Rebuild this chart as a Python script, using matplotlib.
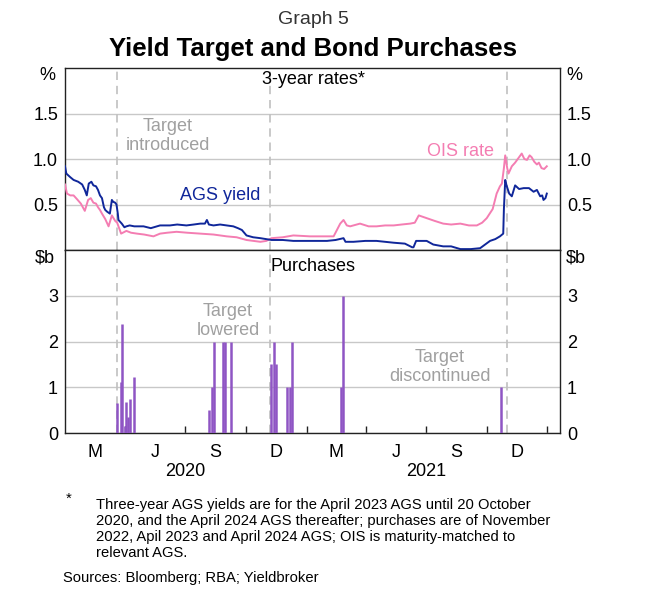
import pandas as pd
import matplotlib
matplotlib.use("Agg")
import matplotlib.pyplot as plt
import matplotlib.transforms as mtransforms

plt.rcParams['font.family'] = ['Liberation Sans', 'DejaVu Sans']

BASE = pd.Timestamp("2020-01-01")

# 3-year AGS yield (days since 1 Jan 2020, per cent)
ags_day = [0, 2, 8, 13, 20, 26, 30, 33, 36, 40, 43, 47, 50, 53, 56, 59, 61, 64,
           68, 71, 73, 76, 78, 80, 81, 86, 90, 93, 98, 105, 119, 130, 144, 159,
           170, 184, 195, 205, 212, 215, 218, 225, 235, 245, 255, 262, 268, 275,
           285, 296, 313, 330, 346, 370, 397, 410, 422, 425, 437, 455, 472, 485,
           498, 515, 526, 528, 532, 536, 548, 558, 573, 585, 599, 615, 629, 644,
           652, 659, 664, 665, 667, 669, 673, 677, 682, 688, 695, 703, 710, 715,
           720, 723, 725, 728, 730]
ags_yield = [0.92, 0.84, 0.80, 0.77, 0.75, 0.72, 0.66, 0.60, 0.73, 0.75, 0.71,
             0.70, 0.66, 0.60, 0.57, 0.47, 0.44, 0.42, 0.40, 0.55, 0.53, 0.52,
             0.50, 0.40, 0.33, 0.29, 0.25, 0.26, 0.27, 0.26, 0.26, 0.24, 0.27,
             0.27, 0.28, 0.27, 0.28, 0.29, 0.29, 0.33, 0.28, 0.27, 0.28, 0.27,
             0.26, 0.24, 0.22, 0.16, 0.14, 0.13, 0.11, 0.11, 0.10, 0.10, 0.10,
             0.11, 0.13, 0.09, 0.09, 0.10, 0.10, 0.09, 0.08, 0.07, 0.03, 0.03,
             0.10, 0.10, 0.10, 0.06, 0.04, 0.04, 0.01, 0.01, 0.02, 0.10, 0.12,
             0.15, 0.18, 0.45, 0.77, 0.71, 0.62, 0.59, 0.71, 0.67, 0.68, 0.68,
             0.64, 0.66, 0.59, 0.60, 0.55, 0.57, 0.62]

# 3-year OIS rate (days since 1 Jan 2020, per cent)
ois_day = [0, 3, 8, 13, 18, 24, 30, 35, 39, 43, 47, 50, 53, 56, 61, 66, 71, 76,
           79, 81, 85, 93, 100, 109, 120, 134, 144, 155, 169, 185, 205, 225,
           245, 260, 275, 296, 305, 313, 330, 346, 371, 390, 407, 412, 417, 422,
           427, 432, 447, 460, 472, 485, 498, 510, 523, 530, 536, 548, 560, 573,
           585, 599, 612, 624, 632, 639, 648, 654, 659, 662, 665, 667, 670, 672,
           677, 682, 687, 692, 696, 700, 704, 707, 711, 715, 718, 722, 726, 730]
ois_rate = [0.72, 0.62, 0.60, 0.60, 0.56, 0.51, 0.43, 0.55, 0.57, 0.52, 0.51,
            0.47, 0.44, 0.40, 0.34, 0.26, 0.38, 0.32, 0.30, 0.26, 0.18, 0.21,
            0.19, 0.18, 0.17, 0.15, 0.18, 0.19, 0.20, 0.19, 0.18, 0.17, 0.15,
            0.14, 0.11, 0.09, 0.10, 0.13, 0.14, 0.16, 0.15, 0.15, 0.15, 0.22,
            0.29, 0.33, 0.27, 0.26, 0.29, 0.26, 0.26, 0.27, 0.27, 0.28, 0.29,
            0.30, 0.38, 0.35, 0.32, 0.29, 0.28, 0.29, 0.27, 0.27, 0.30, 0.35,
            0.45, 0.62, 0.70, 0.73, 0.90, 1.04, 0.90, 0.84, 0.92, 0.96, 1.01,
            1.06, 1.00, 0.99, 1.04, 1.02, 0.97, 0.94, 0.96, 0.90, 0.89, 0.92]

# Bond purchases under the yield target ($b)
buy_day = [79, 85, 86, 91, 93, 95, 98, 105,
           218, 222, 225, 240, 243, 252,
           312, 316, 320, 337, 341, 344,
           418, 421, 660]
buy_amount = [0.67, 1.12, 2.39, 0.16, 0.69, 0.36, 0.74, 1.23,
              0.51, 1.0, 2.0, 2.0, 2.0, 2.0,
              1.51, 2.0, 1.51, 1.0, 1.0, 2.0,
              1.0, 3.0, 1.0]

event_day = [79, 311, 670]
quarter_labels = ["M", "J", "S", "D", "M", "J", "S", "D"]
years = ["2020", "2021"]

AGS_COLOUR = "#10279a"
OIS_COLOUR = "#f47db2"
BAR_COLOUR = "#8f55c4"
GREY_TEXT = "#a0a0a0"
FS = 13

W, H = 649, 607


def fx(px):
    return px / W


def fy(py):
    return 1 - py / H


def to_dates(days):
    return BASE + pd.to_timedelta(days, unit="D")


fig = plt.figure(figsize=(6.49, 6.07), dpi=100)
ax1 = fig.add_axes([fx(65), fy(250), fx(560) - fx(65), fy(68) - fy(250)])
ax2 = fig.add_axes([fx(65), fy(433.3), fx(560) - fx(65), fy(250) - fy(433.3)])

xmin = BASE
xmax = BASE + pd.Timedelta(days=750)
quarter_edges = pd.date_range("2020-01-01", "2022-01-01", freq="QS")
quarter_mids = [a + (b - a) / 2 for a, b in zip(quarter_edges[:-1], quarter_edges[1:])]

for ax in (ax1, ax2):
    ax.set_xlim(xmin, xmax)
    for d in event_day:
        ax.axvline(BASE + pd.Timedelta(days=d), color="#c0c0c0", lw=1.2,
                   ls=(0, (5, 3.5)), zorder=1)
    ax.tick_params(axis="y", length=0, labelsize=FS, labelright=True, pad=5)
    ax.grid(axis="y", color="#c8c8c8", lw=1)
    ax.set_axisbelow(True)
    for s in ax.spines.values():
        s.set_color("#222222")
        s.set_linewidth(1)

# top panel
ax1.plot(to_dates(ois_day), ois_rate, color=OIS_COLOUR, lw=1.4, zorder=3)
ax1.plot(to_dates(ags_day), ags_yield, color=AGS_COLOUR, lw=1.4, zorder=4)
ax1.set_ylim(0, 2)
ax1.set_yticks([0.5, 1.0, 1.5])
ax1.set_yticklabels(["0.5", "1.0", "1.5"])
ax1.set_xticks([])

# bottom panel
ax2.vlines(to_dates(buy_day), 0, buy_amount, color=BAR_COLOUR, lw=1.8, zorder=3)
ax2.set_ylim(0, 4)
ax2.set_yticks([0, 1, 2, 3])
ax2.set_yticklabels(["0", "1", "2", "3"])
ax2.set_xticks(quarter_edges[1:])
ax2.set_xticklabels([])
ax2.tick_params(axis="x", which="major", direction="in", length=5, width=1,
                color="#222222")
ax2.set_xticks(quarter_mids, minor=True)
ax2.set_xticklabels(quarter_labels, minor=True)
ax2.tick_params(axis="x", which="minor", length=0, labelsize=FS, pad=8)

trans = mtransforms.blended_transform_factory(ax2.transData, fig.transFigure)
for y, lab in zip(years, years):
    ax2.text(pd.Timestamp(f"{y}-07-01"), fy(472), lab, transform=trans,
             ha="center", va="center", fontsize=FS)

# units
fig.text(fx(55), fy(75), "%", ha="right", va="center", fontsize=FS)
fig.text(fx(566), fy(75), "%", ha="left", va="center", fontsize=FS)
fig.text(fx(55), fy(258), "$b", ha="right", va="center", fontsize=FS)
fig.text(fx(566), fy(258), "$b", ha="left", va="center", fontsize=FS)

# panel titles
fig.text(fx(313), fy(79), "3-year rates*", ha="center", va="center", fontsize=FS)
fig.text(fx(313), fy(266), "Purchases", ha="center", va="center", fontsize=FS)

# annotations
fig.text(fx(168), fy(136), "Target\nintroduced", ha="center", va="center",
         fontsize=FS, color=GREY_TEXT, linespacing=1.2)
fig.text(fx(228), fy(321), "Target\nlowered", ha="center", va="center",
         fontsize=FS, color=GREY_TEXT, linespacing=1.2)
fig.text(fx(440), fy(367), "Target\ndiscontinued", ha="center", va="center",
         fontsize=FS, color=GREY_TEXT, linespacing=1.2)
fig.text(fx(220), fy(195), "AGS yield", ha="center", va="center",
         fontsize=FS, color=AGS_COLOUR)
fig.text(fx(461), fy(152), "OIS rate", ha="center", va="center",
         fontsize=FS, color=OIS_COLOUR)

# titles
fig.text(fx(313), fy(20), "Graph 5", ha="center", va="center", fontsize=14,
         color="#333333")
fig.text(fx(313), fy(49), "Yield Target and Bond Purchases", ha="center",
         va="center", fontsize=18.5, fontweight="bold")

# footnotes
fig.text(fx(66), fy(499), "*", ha="left", va="center", fontsize=10.6)
fig.text(fx(96), fy(498),
         "Three-year AGS yields are for the April 2023 AGS until 20 October\n"
         "2020, and the April 2024 AGS thereafter; purchases are of November\n"
         "2022, Apil 2023 and April 2024 AGS; OIS is maturity-matched to\n"
         "relevant AGS.",
         ha="left", va="top", fontsize=10.6, linespacing=1.18)
fig.text(fx(63), fy(578), "Sources: Bloomberg; RBA; Yieldbroker", ha="left",
         va="center", fontsize=10.6)

fig.savefig("out.png", dpi=100)
